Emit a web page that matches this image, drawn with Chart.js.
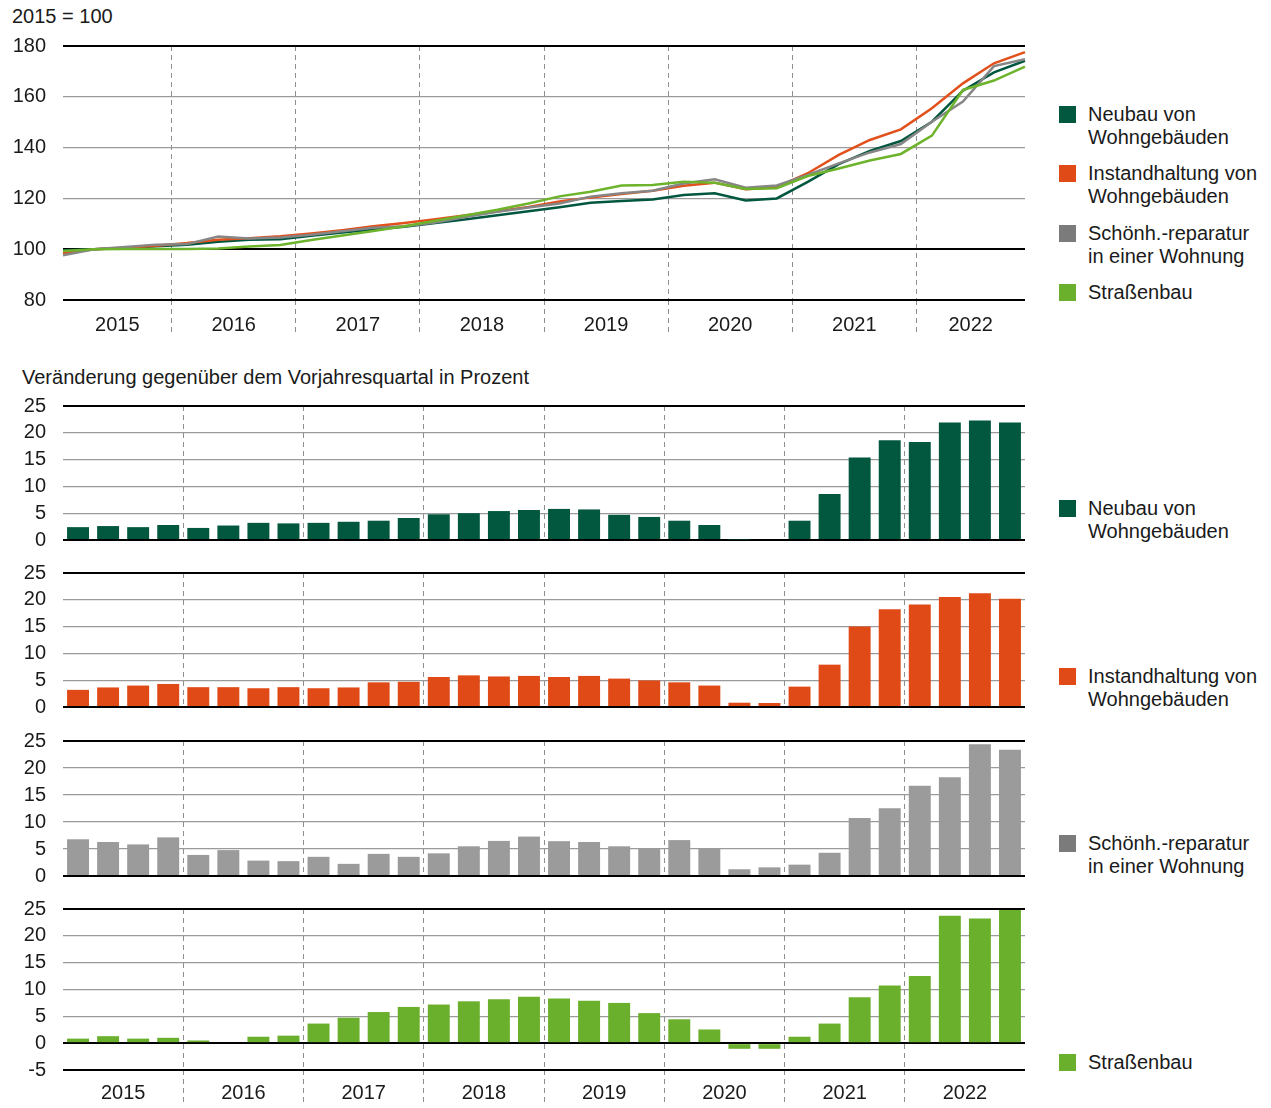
<!DOCTYPE html>
<html lang="de">
<head>
<meta charset="utf-8">
<title>Baupreisindizes</title>
<script src="https://cdn.jsdelivr.net/npm/chart.js@4.4.1/dist/chart.umd.min.js"></script>
<style>
  body { margin: 0; background: #fff; }
  #page { position: relative; width: 1271px; height: 1108px; overflow: hidden;
          font-family: 'Liberation Sans', Arial, Helvetica, sans-serif; color: #1a1a1a; }
  #page canvas { position: absolute; left: 0; }
  .txt { position: absolute; font-size: 20px; line-height: 23px; white-space: pre; }
  .sq { position: absolute; width: 17px; height: 17px; }
</style>
</head>
<body>
<div id="page">
  <div class="txt" style="left:12px;top:5px;">2015 = 100</div>
  <div class="txt" style="left:22px;top:366px;">Veränderung gegenüber dem Vorjahresquartal in Prozent</div>
  <canvas id="idx" width="1040" height="345" style="top:0"></canvas>
  <canvas id="bar1" width="1040" height="194" style="top:376px"></canvas>
  <canvas id="bar2" width="1040" height="194" style="top:543px"></canvas>
  <canvas id="bar3" width="1040" height="195" style="top:711px"></canvas>
  <canvas id="bar4" width="1040" height="229" style="top:879px"></canvas>
</div>
<script>
// --- data ---
var years = ['2015', '2016', '2017', '2018', '2019', '2020', '2021', '2022'];
var quarters = [
  'Q1 2015', 'Q2 2015', 'Q3 2015', 'Q4 2015', 'Q1 2016', 'Q2 2016', 'Q3 2016', 'Q4 2016',
  'Q1 2017', 'Q2 2017', 'Q3 2017', 'Q4 2017', 'Q1 2018', 'Q2 2018', 'Q3 2018', 'Q4 2018',
  'Q1 2019', 'Q2 2019', 'Q3 2019', 'Q4 2019', 'Q1 2020', 'Q2 2020', 'Q3 2020', 'Q4 2020',
  'Q1 2021', 'Q2 2021', 'Q3 2021', 'Q4 2021', 'Q1 2022', 'Q2 2022', 'Q3 2022', 'Q4 2022'
];
var seriesNames = ['Neubau von\nWohngebäuden', 'Instandhaltung von\nWohngebäuden',
                   'Schönh.-reparatur\nin einer Wohnung', 'Straßenbau'];

// Index 2015 = 100
var idxNeubau = [99.6, 100.0, 100.5, 101.2, 101.8, 102.9, 103.7, 103.9, 105.3, 106.6, 107.8, 108.8,
  110.3, 111.8, 113.4, 114.9, 116.5, 118.3, 119.0, 119.6, 121.3, 122.0, 119.2, 120.0,
  126.5, 133.5, 138.7, 142.6, 150.2, 162.4, 169.6, 174.2];
var idxInstand = [98.4, 100.0, 100.6, 101.4, 102.4, 103.7, 104.3, 105.1, 106.2, 107.5, 109.0, 110.3,
  111.8, 113.4, 114.9, 116.6, 118.8, 120.4, 121.7, 123.0, 125.0, 126.2, 123.6, 124.4,
  129.9, 137.1, 143.0, 147.2, 155.5, 165.3, 173.2, 177.6];
var idxSchoen = [97.6, 100.0, 100.9, 101.8, 102.0, 105.0, 104.2, 104.6, 105.7, 107.1, 108.4, 109.0,
  110.5, 112.8, 114.7, 116.4, 118.0, 120.7, 122.0, 123.0, 125.9, 127.5, 124.2, 125.1,
  129.2, 133.8, 138.1, 141.4, 150.2, 158.1, 172.1, 174.8];
var idxStrasse = [99.3, 100.0, 100.1, 100.1, 100.1, 100.3, 101.1, 101.7, 103.6, 105.4, 107.2, 109.0,
  111.2, 113.4, 115.5, 118.0, 120.8, 122.6, 125.1, 125.3, 126.6, 126.2, 123.7, 124.0,
  128.8, 131.8, 134.9, 137.5, 144.7, 162.7, 166.4, 171.9];

// Veraenderung gegenueber Vorjahresquartal in %
var chgNeubau = [2.4, 2.6, 2.4, 2.8, 2.25, 2.7, 3.2, 3.1, 3.2, 3.4, 3.6, 4.1,
  4.8, 5.0, 5.4, 5.6, 5.8, 5.7, 4.7, 4.3, 3.6, 2.8, 0.1, 0,
  3.6, 8.6, 15.4, 18.6, 18.3, 21.9, 22.3, 21.9];
var chgInstand = [3.2, 3.65, 4.0, 4.3, 3.7, 3.7, 3.5, 3.7, 3.5, 3.65, 4.6, 4.7,
  5.6, 5.9, 5.7, 5.8, 5.6, 5.8, 5.3, 4.95, 4.6, 4.0, 0.8, 0.75,
  3.8, 7.9, 15.0, 18.25, 19.1, 20.5, 21.2, 20.2];
var chgSchoen = [6.8, 6.3, 5.85, 7.15, 3.9, 4.8, 2.85, 2.75, 3.55, 2.25, 4.1, 3.55,
  4.2, 5.5, 6.5, 7.3, 6.45, 6.3, 5.5, 5.1, 6.65, 5.15, 1.25, 1.6,
  2.1, 4.3, 10.75, 12.55, 16.7, 18.3, 24.4, 23.4];
var chgStrasse = [0.85, 1.3, 0.85, 1.0, 0.5, 0, 1.2, 1.4, 3.65, 4.75, 5.8, 6.75,
  7.2, 7.8, 8.2, 8.65, 8.3, 7.9, 7.5, 5.6, 4.45, 2.55, -1.05, -1.05,
  1.2, 3.65, 8.55, 10.75, 12.5, 23.75, 23.25, 24.8];

// --- styles ---
var lineColors = ['#00573f', '#e2501c', '#868686', '#6db32c'];
var barColors = ['#02573f', '#e04a17', '#9b9b9b', '#6ab02c'];
var legendColors = ['#02573f', '#e04a17', '#7b7b7b', '#6ab02c'];
var GRID_GRAY = '#9a9a9a';
var DIVIDER = '#8e8e8e';

Chart.defaults.font.family = "'Liberation Sans', Arial, Helvetica, sans-serif";
Chart.defaults.font.size = 20;
Chart.defaults.color = '#1a1a1a';
Chart.defaults.animation = false;
Chart.defaults.plugins.legend.display = false;
Chart.defaults.plugins.tooltip.enabled = false;

var n = quarters.length;
// year boundaries (between Q4 and Q1) in quarter units
var yearBounds = years.slice(1).map(function(y, k) { return 4 * (k + 1) - 0.5; });

function yAxis(min, max, step, heavy) {
  return {
    min: min, max: max,
    afterFit: function(axis) { axis.width = 63; },
    ticks: { stepSize: step, padding: 17, autoSkip: false },
    grid: {
      drawTicks: false,
      color: function(c) { return heavy.indexOf(c.tick.value) >= 0 ? '#000' : GRID_GRAY; },
      lineWidth: function(c) { return heavy.indexOf(c.tick.value) >= 0 ? 2 : 1.3; }
    },
    border: { display: false }
  };
}

// dashed year separators
function dividerAxis(min, max, tickLen) {
  return {
    type: 'linear', position: 'bottom', min: min, max: max, offset: false,
    afterBuildTicks: function(axis) { axis.ticks = yearBounds.map(function(v) { return { value: v }; }); },
    afterFit: function(axis) { axis.height = 0; },
    ticks: { display: false },
    grid: {
      offset: false,
      color: DIVIDER, lineWidth: 1,
      drawTicks: tickLen > 0, tickLength: tickLen,
      tickColor: DIVIDER, tickWidth: 1, tickBorderDash: [5, 4]
    },
    border: { display: false, dash: [5, 4] }
  };
}

// year labels centred in each year block
function labelAxis(min, max, pad, height) {
  var centers = years.map(function(y, k) {
    return (Math.max(min, 4 * k - 0.5) + Math.min(max, 4 * k + 3.5)) / 2;
  });
  return {
    type: 'linear', position: 'bottom', min: min, max: max, weight: 1, offset: false,
    afterBuildTicks: function(axis) { axis.ticks = centers.map(function(v) { return { value: v }; }); },
    afterFit: function(axis) { axis.height = height; },
    ticks: { autoSkip: false, maxRotation: 0, padding: pad,
             callback: function(v, i) { return years[i]; } },
    grid: { display: false, drawTicks: false, offset: false },
    border: { display: false }
  };
}

// --- index line chart ---
var idxSeries = [idxNeubau, idxInstand, idxSchoen, idxStrasse];
new Chart(document.getElementById('idx'), {
  type: 'line',
  data: {
    labels: quarters,
    datasets: idxSeries.map(function(s, i) {
      return {
        label: seriesNames[i], data: s, xAxisID: 'x', yAxisID: 'y',
        borderColor: lineColors[i], borderWidth: 2.5, pointRadius: 0,
        tension: 0, fill: false, order: 3 - i
      };
    })
  },
  options: {
    responsive: false,
    layout: { padding: { left: 0, right: 15, top: 46, bottom: 5 } },
    scales: {
      x: { type: 'category', display: false, offset: false },
      xd: dividerAxis(0, n - 1, 35),
      xl: labelAxis(0, n - 1, 13, 40),
      y: yAxis(80, 180, 20, [80, 100, 180])
    }
  }
});

// --- change bar charts ---
var chgSeries = [chgNeubau, chgInstand, chgSchoen, chgStrasse];
function barChart(id, k, last) {
  var scales = {
    x: { type: 'category', display: false },
    xd: dividerAxis(-0.5, n - 0.5, last ? 35 : 0),
    y: last ? yAxis(-5, 25, 5, [-5, 0, 25]) : yAxis(0, 25, 5, [0, 25])
  };
  if (last) scales.xl = labelAxis(-0.5, n - 0.5, 11, 35);
  new Chart(document.getElementById(id), {
    type: 'bar',
    data: {
      labels: quarters,
      datasets: [{
        label: seriesNames[k], data: chgSeries[k], xAxisID: 'x', yAxisID: 'y',
        backgroundColor: barColors[k], borderWidth: 0,
        barPercentage: 0.73, categoryPercentage: 1
      }]
    },
    options: {
      responsive: false,
      layout: { padding: { left: 0, right: 15, top: 30, bottom: last ? 3 : 30 } },
      scales: scales
    }
  });
}
barChart('bar1', 0, false);
barChart('bar2', 1, false);
barChart('bar3', 2, false);
barChart('bar4', 3, true);

// --- legends (HTML) ---
var page = document.getElementById('page');
function legendItem(k, centerY) {
  var sq = document.createElement('div');
  sq.className = 'sq';
  sq.style.left = '1059px';
  sq.style.top = (centerY - 8.5) + 'px';
  sq.style.background = legendColors[k];
  page.appendChild(sq);
  var t = document.createElement('div');
  t.className = 'txt';
  t.style.left = '1088px';
  t.style.top = (centerY - 11.5) + 'px';
  t.textContent = seriesNames[k];
  page.appendChild(t);
}
[114, 173, 233, 292].forEach(function(y, k) { legendItem(k, y); });
[508, 676, 843, 1062].forEach(function(y, k) { legendItem(k, y); });
</script>
</body>
</html>
